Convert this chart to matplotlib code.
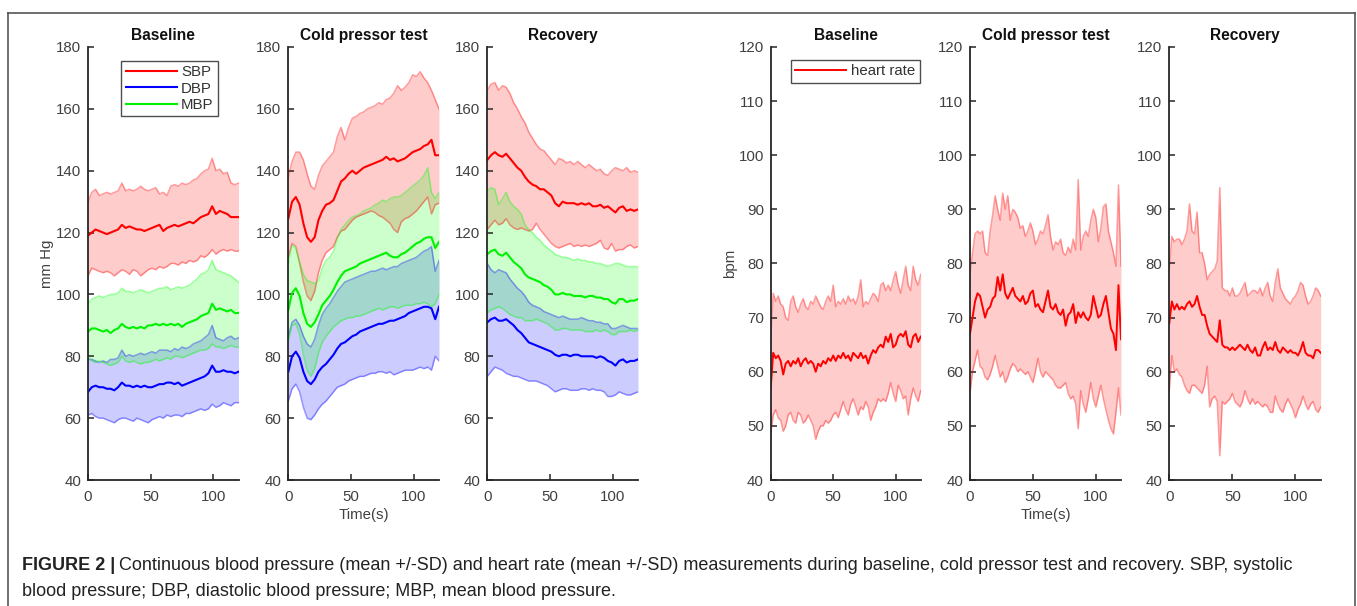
import numpy as np
import matplotlib
matplotlib.use("Agg")
import matplotlib.pyplot as plt
from matplotlib.lines import Line2D

plt.rcParams['font.family'] = ['Liberation Sans', 'DejaVu Sans']

# ---------------- data ----------------
t_bp = np.arange(0, 121, 3)   # s
t_hr = np.arange(0, 121, 2)   # s

# Baseline blood pressure
base_sbp = [119, 120, 121, 120.5, 120, 119.5, 120, 120.5, 121, 122.5, 121.5, 122, 121.5, 121, 121, 120.5, 121, 121.5, 122, 122.5, 120.5,
            121.5, 122, 122.5, 122, 122.5, 123, 123.5, 123, 124, 125, 125.5, 126, 128.5, 126, 127, 126.5, 126, 125, 125, 125]
base_sbp_hi = [130, 133, 134, 132, 132.5, 133, 132.5, 133, 133.5, 136, 133.5, 134, 133.5, 134, 135, 134, 133.5, 134, 134.5, 132.5, 133,
               132, 135, 135.5, 135, 136, 135.5, 136, 137, 137.5, 139, 140, 140.5, 144, 140, 140.5, 139, 139.5, 136, 135.5, 136]
base_sbp_lo = [106, 108.5, 108, 107.5, 107, 107.5, 107, 106, 107, 108, 107.5, 106.5, 108, 107.5, 106, 107, 108, 108.5, 108, 109, 108.5,
               109, 110, 110, 109.5, 110.5, 110, 111, 110.5, 111, 112.5, 112, 113, 114.5, 113, 114, 114.5, 114, 114.5, 114, 114]
base_mbp = [88, 89, 89, 88.5, 88, 88.5, 87.5, 88.5, 89, 90.5, 89.5, 89, 89.5, 89, 89.5, 89, 90, 90, 90.5, 90, 90.5,
            90, 90.5, 90, 90.5, 89.5, 90.5, 91, 91.5, 92, 93, 93.5, 94, 97, 95, 95.5, 95, 94.5, 95, 94, 94]
base_mbp_hi = [97, 98.5, 99, 99.5, 99, 99.5, 100, 100, 100.5, 102, 101, 101, 100.5, 101, 101.5, 101, 100.5, 101, 101.5, 102, 102,
               102.5, 101.5, 102, 102.5, 102, 102.5, 103, 104, 105, 106.5, 107, 108, 111, 108, 107.5, 107, 106.5, 106, 105, 104]
base_mbp_lo = [79.5, 78.5, 78, 78.5, 78, 77.5, 77, 77.5, 78, 80, 78.5, 78, 78.5, 78, 77.5, 78, 78, 78.5, 79, 78.5, 79,
               79.5, 79, 80, 80, 79.5, 80, 80.5, 81, 81.5, 82, 82, 82.5, 84, 83, 83, 82.5, 83, 83.5, 83, 83]
base_dbp = [68.5, 70, 70.5, 70, 70, 69.5, 69.5, 69, 70, 71.5, 70.5, 70.5, 70, 70.5, 70, 70.5, 70, 70, 70.5, 71, 71,
            71.5, 71.5, 71, 71.5, 70.5, 71, 71.5, 72, 72.5, 73, 73.5, 74.5, 77, 75, 75, 75.5, 75, 75, 74.5, 75]
base_dbp_hi = [79, 79, 78.5, 78, 78.5, 78, 79, 79, 79.5, 82, 80, 80.5, 80, 80.5, 81, 80.5, 81, 81.5, 81, 82, 82,
               82, 81.5, 82.5, 82, 83, 82.5, 83, 84, 84.5, 85, 86, 87, 90, 86, 85.5, 85, 86, 86.5, 85.5, 86]
base_dbp_lo = [61, 61.5, 60.5, 60, 60, 59.5, 59, 58.5, 59.5, 60, 60, 59.5, 59, 60, 59.5, 59, 58.5, 59.5, 60, 60.5, 60,
               61, 60.5, 61, 61, 60.5, 61.5, 61.5, 62, 62.5, 63, 62.5, 63, 64.5, 63.5, 64, 65, 64.5, 64, 65, 65]

# Cold pressor test blood pressure
cpt_sbp = [124.5, 130, 131.5, 129, 123, 118.5, 117, 118.5, 124, 127, 129, 129.5, 130.5, 133.5, 136.5, 137.5, 139, 140, 139, 140, 141,
           141.5, 142, 142.5, 143, 143.5, 144.5, 143.5, 144, 143, 143.5, 144, 145, 146, 146.5, 147, 148, 148.5, 150, 145, 145]
cpt_sbp_hi = [138, 143, 146, 146, 143.5, 139, 135, 134, 138.5, 141.5, 143, 144.5, 146, 151, 154, 150, 154, 157, 157.5, 158.5, 159,
              160, 160.5, 161, 162, 161.5, 163, 163.5, 165, 167.5, 166, 167, 168.5, 171, 170.5, 172, 170, 168.5, 166, 163, 160]
cpt_sbp_lo = [112, 116.5, 115.5, 110, 104, 99.5, 98, 101, 107, 111, 113.5, 114.5, 115.5, 118.5, 120.5, 121, 122.5, 124, 125, 125.5, 126,
              126.5, 127, 126.5, 125.5, 125, 124, 123, 121, 120, 123.5, 124.5, 125, 126, 127, 128.5, 130, 131.5, 126, 129, 129.5]
cpt_mbp = [95, 100.5, 102, 99.5, 94, 90.5, 89.5, 91, 93.5, 96.5, 98, 99.5, 101.5, 104, 106, 107.5, 108, 108.5, 109, 110, 110.5,
           111, 111.5, 112, 112.5, 113, 113.5, 112.5, 112, 112, 113, 113.5, 114.5, 115.5, 116.5, 117, 118, 118.5, 118.5, 115, 117]
cpt_mbp_hi = [110, 116, 115, 110.5, 106.5, 104.5, 104, 103.5, 104.5, 108.5, 111, 112, 114, 118, 121, 122.5, 124, 125, 125.5, 126, 127,
              127.5, 128, 129, 129.5, 130.5, 130, 131, 131.5, 131.5, 132, 133, 134, 135, 136, 137, 138.5, 141, 133, 131, 133]
cpt_mbp_lo = [85, 90, 90.5, 87, 80.5, 75.5, 73.5, 76, 81, 84.5, 86.5, 88, 89.5, 90.5, 91.5, 92, 92.5, 92.5, 93, 93, 93.5,
              94, 94.5, 95, 95.5, 95, 95.5, 96, 96, 95.5, 96, 96.5, 96.5, 96.5, 97, 97, 97.5, 97, 96, 97, 100]
cpt_dbp = [75, 80, 81.5, 79.5, 75, 72, 71, 72.5, 75, 76.5, 77.5, 79, 80.5, 82.5, 84, 84.5, 85.5, 86.5, 87, 88, 88.5,
           89, 89.5, 90, 90.5, 90.5, 91, 91.5, 91.5, 92, 92.5, 93, 94, 94.5, 95, 95.5, 96, 96, 95.5, 92, 96]
cpt_dbp_hi = [86.5, 91, 92, 90, 86.5, 84, 83, 85.5, 90, 93.5, 95.5, 97, 99, 101, 102.5, 104, 104.5, 105, 105.5, 106, 106.5,
              107, 107.5, 107.5, 108, 108.5, 108, 108.5, 109, 109, 110, 110.5, 111, 111.5, 112, 113, 114, 114.5, 115.5, 107.5, 111]
cpt_dbp_lo = [65.5, 69.5, 71, 68.5, 63.5, 60, 59.5, 61, 63, 64.5, 65.5, 67, 68.5, 70, 70.5, 71, 72, 72.5, 73, 73.5, 73.5,
              74, 74.5, 74.5, 75, 75, 74.5, 75, 74, 74.5, 75, 75.5, 75.5, 75.5, 76, 76.5, 76, 76.5, 75.5, 80, 78.5]

# Recovery blood pressure
rec_sbp = [143.5, 145, 146, 145, 144.5, 145.5, 144, 142.5, 141, 140, 138, 136.5, 135.5, 135, 134, 134, 133, 132, 129.5, 128.5, 130,
           129.5, 129.5, 129.5, 129, 129.5, 129, 129.5, 128.5, 128.5, 129, 128, 128.5, 127.5, 126.5, 128, 128.5, 127, 127.5, 127, 127.5]
rec_sbp_hi = [166, 168, 168.5, 166, 167.5, 167, 165, 162, 160, 157.5, 155.5, 152.5, 150.5, 148.5, 147, 146.5, 145, 143.5, 142, 144, 143.5,
              142.5, 143, 142, 143, 142, 141, 142, 141, 140, 140.5, 139, 138.5, 140, 141, 140.5, 140, 141, 139.5, 140, 139.5]
rec_sbp_lo = [121, 122.5, 124, 122.5, 123, 124.5, 122.5, 121.5, 121, 121.5, 121, 120.5, 121, 123, 121, 119.5, 118, 116.5, 115.5, 115, 115.5,
              116, 116.5, 115.5, 116, 115.5, 116, 115.5, 116, 116.5, 117.5, 115, 114.5, 116.5, 114, 114.5, 114.5, 115.5, 116, 115, 115.5]
rec_mbp = [113, 114, 114.5, 113, 112.5, 113.5, 112, 110.5, 109.5, 108.5, 106.5, 105.5, 105, 104.5, 104, 103, 102.5, 101.5, 100, 100, 100.5,
           100, 100, 99.5, 99.5, 99.5, 99, 99.5, 99.5, 99, 99, 98.5, 98.5, 97.5, 97, 98.5, 98.5, 97.5, 98, 98, 98.5]
rec_mbp_hi = [133.5, 134.5, 134, 129, 131, 133, 130, 128.5, 127.5, 126, 122.5, 121, 120, 118.5, 117.5, 116, 115, 114, 113, 112.5, 112,
              112, 111.5, 111, 111.5, 111, 111, 110.5, 110.5, 110, 110, 109.5, 109, 109.5, 110, 110, 109.5, 109, 109, 109, 109]
rec_mbp_lo = [94, 95, 95.5, 96, 95.5, 94.5, 93.5, 93, 92.5, 92.5, 91.5, 91.5, 91.5, 92, 91.5, 91, 90.5, 89.5, 88.5, 88.5, 89,
              89, 88.5, 88.5, 88.5, 88.5, 88, 88, 88, 88.5, 88, 88.5, 88, 87, 87, 88, 88, 88, 88.5, 88, 88.5]
rec_dbp = [91, 92, 92.5, 91.5, 91.5, 92, 91, 90, 88.5, 87.5, 86, 84.5, 84, 83.5, 83, 82.5, 82, 81.5, 80.5, 80, 80.5,
           80.5, 80, 80.5, 80.5, 80, 80, 80, 80, 79.5, 80, 79.5, 78.5, 78, 77, 78.5, 79, 78, 78.5, 78.5, 79]
rec_dbp_hi = [110, 108, 107, 108, 107.5, 107, 105, 103.5, 102, 101, 99.5, 97.5, 96.5, 96, 95.5, 94.5, 94, 93.5, 93, 92.5, 93,
              92.5, 92, 92, 92, 92.5, 92, 91.5, 91.5, 91, 91, 90.5, 90.5, 89, 89, 89.5, 90, 89.5, 89, 89, 89]
rec_dbp_lo = [73.5, 75, 76.5, 76, 75.5, 74.5, 74, 73.5, 73.5, 73, 72.5, 72, 72, 72, 71.5, 71, 70.5, 69.5, 68.5, 69, 69.5,
              69.5, 69, 69, 69, 69.5, 69.5, 69, 69.5, 69, 69, 68.5, 67, 67, 67.5, 68.5, 68, 67.5, 67.5, 68, 68.5]

# Heart rate
base_hr = [57, 63.5, 62.5, 63, 62, 59.5, 61.5, 62, 61, 62, 61.5, 62.5, 61, 62, 62.5, 61.5, 62, 61.5, 60, 61.5, 61,
           62, 61.5, 62.5, 62, 63, 62, 63, 62.5, 63.5, 62.5, 63, 62, 63.5, 63, 62.5, 63.5, 62.5, 63, 61.5, 63,
           64, 63.5, 64.5, 65, 64.5, 66.5, 65.5, 67, 64.5, 65, 66.5, 67, 66.5, 67.5, 65, 64.5, 66.5, 67, 65.5, 66.5]
base_hr_hi = [66, 74.5, 73, 74, 72.5, 72, 70, 69.5, 73, 74, 72, 71, 72.5, 73.5, 72, 71.5, 73, 72.5, 74, 73, 72,
              71.5, 73, 74, 73, 76, 72, 73, 72.5, 73.5, 72.5, 74, 73, 73.5, 72.5, 74, 77, 72, 73, 72.5, 73.5,
              74.5, 74, 73, 76, 76.5, 75, 76, 75, 77, 78.5, 76, 74.5, 77, 79.5, 76, 75, 79.5, 77, 76, 78]
base_hr_lo = [48.5, 52, 53, 51.5, 51, 49, 50, 52, 52.5, 51, 50.5, 52.5, 52, 50.5, 51, 52, 51, 50, 47.5, 49, 50,
              50, 51, 50.5, 51, 52, 52.5, 51.5, 53, 54.5, 53, 52, 54, 55, 53.5, 52, 53.5, 53, 54.5, 53.5, 51,
              52.5, 53.5, 55, 54.5, 55, 54.5, 56, 58, 56, 54.5, 57.5, 56.5, 55, 55.5, 52, 55, 57, 55.5, 54.5, 56.5]
cpt_hr = [67, 70, 73, 74.5, 74, 72, 70, 71.5, 72, 73.5, 74, 77.5, 75, 78, 74.5, 73.5, 74.5, 75.5, 74, 73.5, 73,
          74, 72.5, 73, 74.5, 75, 72, 72.5, 71.5, 71, 73, 75, 72, 71.5, 72.5, 71, 70.5, 71.5, 68.5, 70.5, 71,
          72.5, 69, 71, 70, 71, 70, 69.5, 70.5, 74, 72, 70, 70.5, 72.5, 74, 71, 68, 67, 64, 76, 66]
cpt_hr_hi = [78, 82, 85.5, 86, 85.5, 86, 82, 81.5, 86, 89, 92.5, 90, 88, 93, 90, 92.5, 88, 90, 89.5, 88.5, 86.5,
             87, 85, 86, 87.5, 86, 83.5, 84.5, 86, 85.5, 87, 89, 85, 82.5, 84, 83.5, 84.5, 82, 81.5, 83, 82,
             84.5, 82.5, 95.5, 82.5, 85, 86, 85, 88, 90, 88.5, 84, 86.5, 90.5, 91, 86, 84, 82, 79.5, 94.5, 79.5]
cpt_hr_lo = [56, 60, 62, 64, 61, 60.5, 59, 58.5, 59.5, 61, 63, 61, 59, 60, 58, 59, 60.5, 61.5, 61, 60, 60.5,
             60, 59.5, 60, 59, 58, 60, 62.5, 60, 59, 60, 59.5, 59, 58.5, 57.5, 57, 57, 57.5, 58, 56, 55,
             55.5, 54, 49.5, 56.5, 54, 52.5, 55, 58, 55, 53.5, 55.5, 57.5, 55, 53, 51, 49.5, 48.5, 52.5, 57, 52]
rec_hr = [69, 73, 71.5, 72.5, 71.5, 72, 71.5, 72.5, 73, 72, 72.5, 74, 72, 70.5, 70.5, 68.5, 67, 66.5, 66, 65.5, 69.5,
          65, 64.5, 64.5, 64, 64.5, 64, 64.5, 65, 64.5, 64, 65, 64, 63.5, 64.5, 63, 63, 64.5, 65.5, 64, 64.5,
          64, 65.5, 64, 63.5, 64.5, 64, 63.5, 64, 63.5, 63.5, 63, 64, 65.5, 63.5, 63, 63, 62.5, 64, 64, 63.5]
rec_hr_hi = [79, 85, 84, 84.5, 84.5, 83.5, 84.5, 86, 91, 86, 85.5, 89.5, 82, 82, 80, 77, 78, 78.5, 79, 80.5, 94,
             75.5, 75, 75, 74, 75.5, 74, 74, 74.5, 75.5, 76.5, 74, 74.5, 75, 75, 74.5, 75.5, 74, 75.5, 76.5, 74,
             73, 76.5, 79, 75.5, 74.5, 73.5, 73, 72.5, 73.5, 74, 75, 76.5, 76, 74, 72.5, 73, 74, 75.5, 75, 74]
rec_hr_lo = [56.5, 63, 60, 60.5, 59.5, 59, 57.5, 56.5, 56, 57.5, 57.5, 57, 56.5, 56, 57.5, 61, 53.5, 55, 55.5, 54.5, 44.5,
             54.5, 54, 54.5, 55, 56, 54.5, 54, 53.5, 54.5, 56.5, 55, 54, 55, 54, 54.5, 54, 53.5, 54, 53.5, 52.5,
             52.5, 55.5, 54, 53, 52.5, 54, 55, 54, 53, 51.5, 53, 54, 55.5, 54, 53, 54, 54.5, 53, 52.5, 53.5]

bp_titles = ["Baseline", "Cold pressor test", "Recovery"]
bp_panels = [
    (base_sbp, base_sbp_lo, base_sbp_hi, base_dbp, base_dbp_lo, base_dbp_hi, base_mbp, base_mbp_lo, base_mbp_hi),
    (cpt_sbp, cpt_sbp_lo, cpt_sbp_hi, cpt_dbp, cpt_dbp_lo, cpt_dbp_hi, cpt_mbp, cpt_mbp_lo, cpt_mbp_hi),
    (rec_sbp, rec_sbp_lo, rec_sbp_hi, rec_dbp, rec_dbp_lo, rec_dbp_hi, rec_mbp, rec_mbp_lo, rec_mbp_hi),
]
hr_panels = [(base_hr, base_hr_lo, base_hr_hi), (cpt_hr, cpt_hr_lo, cpt_hr_hi), (rec_hr, rec_hr_lo, rec_hr_hi)]

W, H = 1357, 606
fig = plt.figure(figsize=(W / 100, H / 100), dpi=100)

AXC = '#404040'


def make_ax(x0, x1, y_top=47, y_bot=480):
    ax = fig.add_axes([x0 / W, 1 - y_bot / H, (x1 - x0) / W, (y_bot - y_top) / H])
    for s in ('top', 'right'):
        ax.spines[s].set_visible(False)
    for s in ('left', 'bottom'):
        ax.spines[s].set_color('#262626')
        ax.spines[s].set_linewidth(1.3)
    ax.tick_params(direction='in', length=4, width=1.1, colors='#262626',
                   labelcolor=AXC, labelsize=10.8)
    ax.tick_params(axis='x', pad=7)
    ax.tick_params(axis='y', pad=5)
    ax.set_xlim(0, 120)
    ax.set_xticks([0, 50, 100])
    return ax


def band(ax, t, m, lo, hi, col):
    ax.fill_between(t, lo, hi, color=col, alpha=0.2, lw=0)
    ax.plot(t, lo, color=col, alpha=0.38, lw=1.1)
    ax.plot(t, hi, color=col, alpha=0.38, lw=1.1)


bp_x = [(88, 238.5), (288.3, 439), (487.3, 638)]
for i, (x0, x1) in enumerate(bp_x):
    ax = make_ax(x0, x1)
    s, slo, shi, d, dlo, dhi, mm, mlo, mhi = bp_panels[i]
    band(ax, t_bp, s, slo, shi, (1, 0, 0))
    band(ax, t_bp, d, dlo, dhi, (0, 0, 1))
    band(ax, t_bp, mm, mlo, mhi, (0, 1, 0))
    l1, = ax.plot(t_bp, s, color=(1, 0, 0), lw=1.5)
    l2, = ax.plot(t_bp, d, color=(0, 0, 1), lw=1.5)
    l3, = ax.plot(t_bp, mm, color=(0, 0.95, 0), lw=1.5)
    ax.set_ylim(40, 180)
    ax.set_yticks(np.arange(40, 181, 20))
    ax.set_title(bp_titles[i], fontsize=11.2, fontweight='bold', color='#111111', pad=5)
    if i == 0:
        ax.set_ylabel('mm Hg', fontsize=10.8, color=AXC, labelpad=1)
        leg = ax.legend([l1, l2, l3], ['SBP', 'DBP', 'MBP'], loc='upper left',
                        bbox_to_anchor=(0.22, 0.968), borderaxespad=0, fancybox=False,
                        edgecolor='#222222', fontsize=10.8, handlelength=3.4,
                        handletextpad=0.3, labelspacing=0.15, borderpad=0.3)
        leg.get_frame().set_linewidth(1.0)
        for txt in leg.get_texts():
            txt.set_color('#333333')
    if i == 1:
        ax.set_xlabel('Time(s)', fontsize=10.8, color=AXC, labelpad=3)

hr_x = [(770.7, 920.7), (970, 1121), (1169.3, 1320.7)]
for i, (x0, x1) in enumerate(hr_x):
    ax = make_ax(x0, x1)
    m, lo, hi = hr_panels[i]
    band(ax, t_hr, m, lo, hi, (1, 0, 0))
    lh, = ax.plot(t_hr, m, color=(1, 0, 0), lw=1.4)
    ax.set_ylim(40, 120)
    ax.set_yticks(np.arange(40, 121, 10))
    ax.set_title(bp_titles[i], fontsize=11.2, fontweight='bold', color='#111111', pad=5)
    if i == 0:
        ax.set_ylabel('bpm', fontsize=10.8, color=AXC, labelpad=1)
        leg = ax.legend([lh], ['heart rate'], loc='upper left',
                        bbox_to_anchor=(0.135, 0.97), borderaxespad=0, fancybox=False,
                        edgecolor='#222222', fontsize=10.8, handlelength=3.4,
                        handletextpad=0.3, borderpad=0.3)
        leg.get_frame().set_linewidth(1.0)
        leg.get_texts()[0].set_color('#333333')
    if i == 1:
        ax.set_xlabel('Time(s)', fontsize=10.8, color=AXC, labelpad=3)

# frame around the figure panel
fc = '#555555'
fig.add_artist(Line2D([7.5 / W, 7.5 / W], [0, 1 - 12.5 / H], color=fc, lw=1.2))
fig.add_artist(Line2D([1354.5 / W, 1354.5 / W], [0, 1 - 12.5 / H], color=fc, lw=1.2))
fig.add_artist(Line2D([7.5 / W, 1354.5 / W], [1 - 12.5 / H, 1 - 12.5 / H], color=fc, lw=1.2))

# caption
cap_fs = 13.0
r = fig.canvas.get_renderer()
b = fig.text(22 / W, 1 - 566 / H, 'FIGURE 2 |', fontsize=cap_fs, fontweight='bold',
             color='#222222', va='center', ha='left')
ext = b.get_window_extent(renderer=r)
fig.text((ext.x1 + 4) / W, 1 - 566 / H,
         'Continuous blood pressure (mean +/-SD) and heart rate (mean +/-SD) measurements during baseline, '
         'cold pressor test and recovery. SBP, systolic',
         fontsize=cap_fs, color='#222222', va='center', ha='left')
fig.text(22 / W, 1 - 591 / H, 'blood pressure; DBP, diastolic blood pressure; MBP, mean blood pressure.',
         fontsize=cap_fs, color='#222222', va='center', ha='left')

fig.savefig('out.png', dpi=100)
